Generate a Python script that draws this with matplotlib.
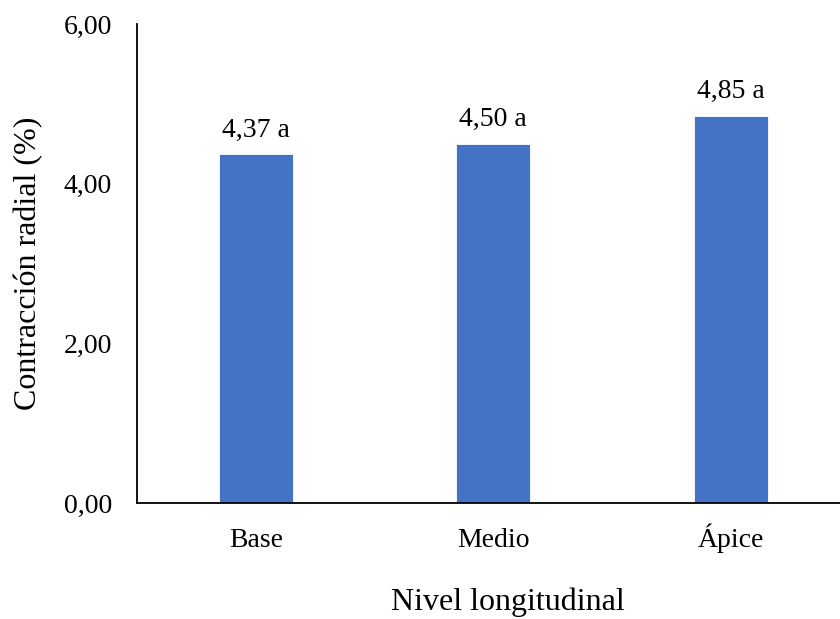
import matplotlib.pyplot as plt

# contracción radial por nivel longitudinal
niveles = ['Base', 'Medio', 'Ápice']
contraccion = [4.37, 4.50, 4.85]
letras = ['a', 'a', 'a']
ticks_y = [0, 2, 4, 6]

plt.rcParams['font.family'] = ['Liberation Serif', 'DejaVu Serif']

fig = plt.figure(figsize=(8.4, 6.19), dpi=100)
ax = fig.add_axes([137 / 840, 1 - 503 / 619, 712.5 / 840, 479 / 619])

x = list(range(len(niveles)))
ax.bar(x, contraccion, width=0.31, color='#4472C4', edgecolor='white', linewidth=0.6, zorder=2)
for xi, v, l in zip(x, contraccion, letras):
    ax.text(xi, v + 0.22, f'{v:.2f}'.replace('.', ',') + ' ' + l,
            ha='center', va='baseline', fontsize=20)

ax.set_xlim(-0.5, 2.5)
ax.set_ylim(0, 6)
ax.set_yticks(ticks_y)
ax.set_yticklabels([f'{t:.2f}'.replace('.', ',') for t in ticks_y], fontsize=20)
ax.set_xticks(x)
ax.set_xticklabels(niveles, fontsize=20, va='baseline')
ax.tick_params(axis='y', length=0, pad=18)
ax.tick_params(axis='x', length=0, pad=31.5)

for s in ['top', 'right']:
    ax.spines[s].set_visible(False)
for s in ['left', 'bottom']:
    ax.spines[s].set_linewidth(1.3)
    ax.spines[s].set_color('black')

ax.set_ylabel('Contracción radial (%)', fontsize=23, va='center')
ax.yaxis.set_label_coords(-0.1516, 0.5)
ax.set_xlabel('Nivel longitudinal', fontsize=23, va='baseline')
ax.xaxis.set_label_coords(0.52, -0.2234)

fig.savefig('out.png', dpi=100)
